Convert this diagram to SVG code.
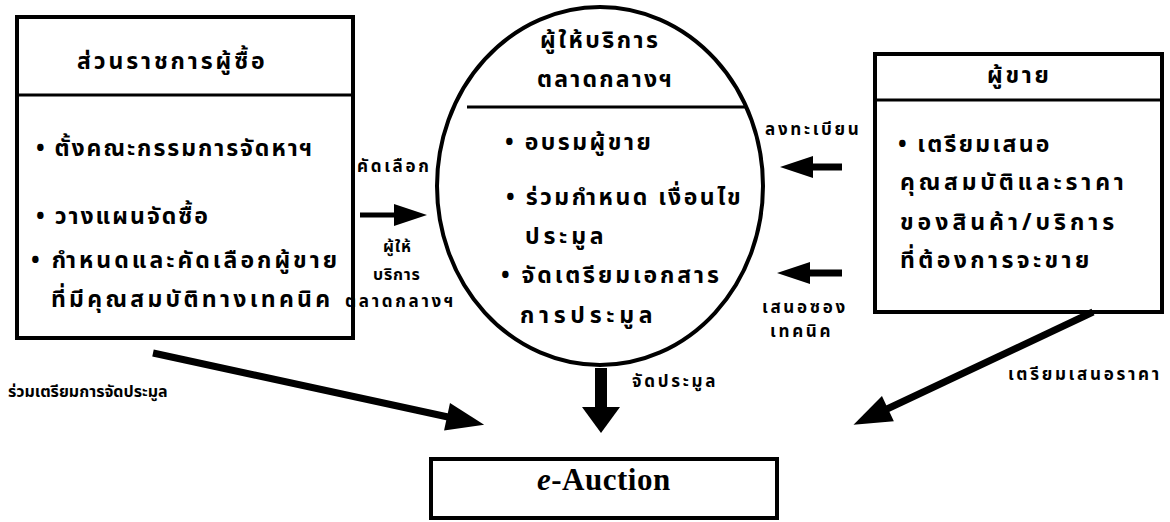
<svg xmlns="http://www.w3.org/2000/svg" width="1170" height="522" viewBox="0 0 1170 522">
<style>
  .box { fill: #fff; stroke: #000; stroke-width: 4; }
  .div { stroke: #000; stroke-width: 3; fill: none; }
  .t { font-family: "Noto Sans", "Noto Sans Thai", "DejaVu Sans", sans-serif; font-weight: bold; fill: #000; }
  .big { font-size: 23px; }
  .lab { font-size: 17px; letter-spacing: 2.7px; }
  .lab2 { font-size: 16px; }
  .conn { stroke: #000; fill: none; }
</style>
<defs>
  <marker id="ahS" markerUnits="userSpaceOnUse" markerWidth="33" markerHeight="22" refX="1" refY="11" orient="auto" overflow="visible">
    <path d="M0,0 L33,11 L0,22 z" fill="#000"/>
  </marker>
  <marker id="ahL" markerUnits="userSpaceOnUse" markerWidth="38" markerHeight="28" refX="1" refY="14" orient="auto" overflow="visible">
    <path d="M0,0 L38,14 L0,28 z" fill="#000"/>
  </marker>
  <marker id="ahD" markerUnits="userSpaceOnUse" markerWidth="26" markerHeight="38" refX="1" refY="19" orient="auto" overflow="visible">
    <path d="M0,0 L26,19 L0,38 z" fill="#000"/>
  </marker>
</defs>

<g id="buyer">
  <rect class="box" x="17" y="17" width="336" height="321"/>
  <line class="div" x1="17" y1="95" x2="353" y2="95"/>
  <text class="t big" x="77" y="69" letter-spacing="2.9">ส่วนราชการผู้ซื้อ</text>
  <text class="t big" x="36" y="156" letter-spacing="1.95">• ตั้งคณะกรรมการจัดหาฯ</text>
  <text class="t big" x="36" y="224" letter-spacing="2">• วางแผนจัดซื้อ</text>
  <text class="t big" x="31" y="268" letter-spacing="3">• กำหนดและคัดเลือกผู้ขาย</text>
  <text class="t big" x="51" y="307" letter-spacing="3.3">ที่มีคุณสมบัติทางเทคนิค</text>
</g>

<g id="provider">
  <ellipse class="box" cx="600" cy="186" rx="163" ry="179" stroke-width="3"/>
  <line class="div" x1="467" y1="107" x2="745" y2="107"/>
  <text class="t big" x="540" y="48" letter-spacing="2.5">ผู้ให้บริการ</text>
  <text class="t big" x="537" y="87" letter-spacing="2.2">ตลาดกลางฯ</text>
  <text class="t big" x="505" y="150" letter-spacing="2.5">• อบรมผู้ขาย</text>
  <text class="t big" x="506" y="205" letter-spacing="2.5">• ร่วมกำหนด เงื่อนไข</text>
  <text class="t big" x="525" y="244" letter-spacing="3.8">ประมูล</text>
  <text class="t big" x="501" y="283" letter-spacing="2.9">• จัดเตรียมเอกสาร</text>
  <text class="t big" x="520" y="323" letter-spacing="4.7">การประมูล</text>
</g>

<g id="seller">
  <rect class="box" x="875" y="54" width="287" height="258"/>
  <line class="div" x1="875" y1="100" x2="1162" y2="100"/>
  <text class="t big" x="987" y="83" letter-spacing="2.75">ผู้ขาย</text>
  <text class="t big" x="898" y="152" letter-spacing="2.3">• เตรียมเสนอ</text>
  <text class="t big" x="900" y="190" letter-spacing="3.8">คุณสมบัติและราคา</text>
  <text class="t big" x="900" y="230" letter-spacing="4">ของสินค้า/บริการ</text>
  <text class="t big" x="900" y="268" letter-spacing="3.4">ที่ต้องการจะขาย</text>
</g>

<g id="eauction">
  <rect class="box" x="431" y="459" width="346" height="59" stroke-width="3"/>
  <text x="537" y="490" font-family="Liberation Serif, serif" font-weight="bold" font-size="31" letter-spacing="0.5"><tspan font-style="italic">e</tspan>-Auction</text>
</g>

<g id="connectors">
  <line class="conn" x1="360" y1="215" x2="395" y2="215" stroke-width="5" marker-end="url(#ahS)"/>
  <line class="conn" x1="842" y1="167" x2="812" y2="167" stroke-width="7" marker-end="url(#ahS)"/>
  <line class="conn" x1="842" y1="273" x2="809" y2="273" stroke-width="7" marker-end="url(#ahS)"/>
  <line class="conn" x1="601" y1="368" x2="601" y2="408" stroke-width="12" marker-end="url(#ahD)"/>
  <line class="conn" x1="153" y1="353" x2="448" y2="417" stroke-width="7" marker-end="url(#ahL)"/>
  <line class="conn" x1="1093" y1="312" x2="887" y2="409" stroke-width="7" marker-end="url(#ahL)"/>

  <text class="t lab" x="357" y="172">คัดเลือก</text>
  <text class="t lab2" x="383" y="252" letter-spacing="0.8">ผู้ให้</text>
  <text class="t lab2" x="373" y="280" letter-spacing="0.8">บริการ</text>
  <text class="t lab" x="345" y="307">ตลาดกลางฯ</text>
  <text class="t lab" x="765" y="135">ลงทะเบียน</text>
  <text class="t lab" x="762" y="313">เสนอซอง</text>
  <text class="t lab" x="770" y="337">เทคนิค</text>
  <text class="t lab" x="632" y="387">จัดประมูล</text>
  <text class="t lab2" x="8" y="397">ร่วมเตรียมการจัดประมูล</text>
  <text class="t lab" x="1008" y="380">เตรียมเสนอราคา</text>
</g>
</svg>
